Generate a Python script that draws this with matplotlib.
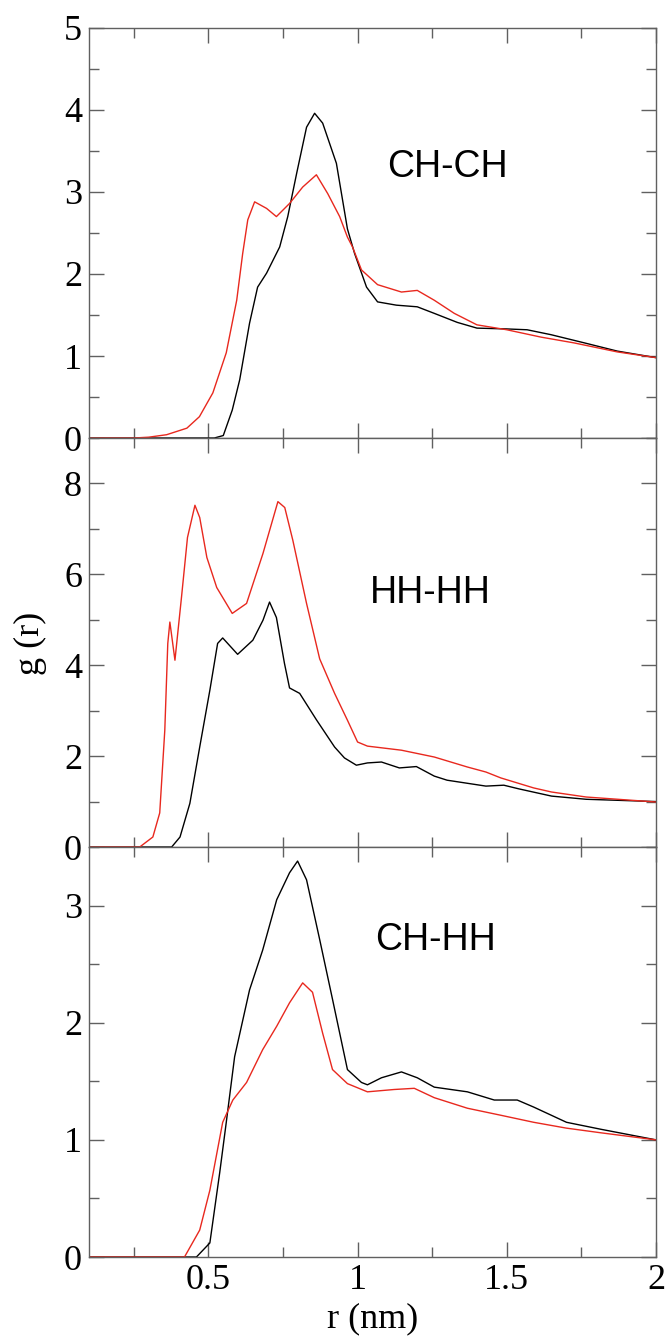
import matplotlib
matplotlib.use("Agg")
import matplotlib.pyplot as plt
from matplotlib.ticker import MultipleLocator, FormatStrFormatter

# ---- data (r in nm, g(r)) ----
# CH-CH
chch_black_r = [0.10, 0.50, 0.52, 0.55, 0.58, 0.605, 0.638, 0.665, 0.695, 0.739, 0.766,
                0.796, 0.829, 0.856, 0.883, 0.929, 0.966, 0.99, 1.03, 1.067, 1.13, 1.20,
                1.257, 1.334, 1.40, 1.50, 1.568, 1.648, 1.76, 1.87, 2.0]
chch_black_g = [0, 0, 0, 0.03, 0.34, 0.71, 1.40, 1.84, 2.01, 2.33, 2.70,
                3.23, 3.79, 3.96, 3.84, 3.35, 2.55, 2.25, 1.84, 1.66, 1.62, 1.60,
                1.52, 1.41, 1.34, 1.33, 1.32, 1.26, 1.16, 1.06, 0.98]
chch_red_r = [0.10, 0.25, 0.30, 0.36, 0.428, 0.47, 0.515, 0.56, 0.595, 0.615, 0.632,
              0.655, 0.695, 0.728, 0.772, 0.816, 0.862, 0.90, 0.94, 0.966, 0.983, 1.013,
              1.067, 1.147, 1.20, 1.257, 1.324, 1.40, 1.50, 1.615, 1.725, 1.87, 2.0]
chch_red_g = [0, 0, 0.01, 0.04, 0.12, 0.26, 0.55, 1.04, 1.68, 2.25, 2.66,
              2.88, 2.80, 2.70, 2.86, 3.06, 3.21, 2.98, 2.70, 2.45, 2.33, 2.05,
              1.87, 1.78, 1.80, 1.68, 1.52, 1.38, 1.32, 1.23, 1.16, 1.05, 0.98]

# HH-HH
hhhh_black_r = [0.10, 0.377, 0.405, 0.438, 0.471, 0.505, 0.531, 0.548, 0.598, 0.649, 0.683,
                0.705, 0.728, 0.755, 0.772, 0.806, 0.862, 0.923, 0.956, 0.996, 1.033, 1.08,
                1.14, 1.197, 1.257, 1.30, 1.43, 1.49, 1.54, 1.65, 1.766, 2.0]
hhhh_black_g = [0, 0, 0.22, 0.96, 2.20, 3.45, 4.48, 4.60, 4.24, 4.55, 4.99,
                5.39, 5.05, 4.04, 3.50, 3.38, 2.80, 2.20, 1.96, 1.80, 1.85, 1.87,
                1.74, 1.77, 1.56, 1.47, 1.34, 1.36, 1.28, 1.12, 1.05, 1.0]
hhhh_red_r = [0.10, 0.27, 0.314, 0.337, 0.354, 0.364, 0.371, 0.388, 0.41, 0.43, 0.455,
              0.471, 0.495, 0.528, 0.58, 0.628, 0.683, 0.733, 0.756, 0.783, 0.829, 0.873,
              0.923, 0.966, 1.0, 1.033, 1.147, 1.257, 1.368, 1.43, 1.48, 1.59, 1.65,
              1.766, 2.0]
hhhh_red_g = [0, 0, 0.22, 0.75, 2.57, 4.48, 4.95, 4.11, 5.50, 6.81, 7.52,
              7.25, 6.37, 5.71, 5.14, 5.36, 6.46, 7.60, 7.47, 6.75, 5.36, 4.14,
              3.38, 2.79, 2.31, 2.22, 2.13, 1.98, 1.76, 1.65, 1.52, 1.30, 1.21,
              1.10, 0.99]

# CH-HH
chhh_black_r = [0.10, 0.46, 0.505, 0.538, 0.56, 0.588, 0.638, 0.682, 0.729, 0.772, 0.799,
                0.829, 0.873, 0.916, 0.966, 1.013, 1.033, 1.08, 1.147, 1.20, 1.257, 1.368,
                1.458, 1.535, 1.59, 1.70, 1.816, 2.0]
chhh_black_g = [0, 0, 0.12, 0.72, 1.15, 1.71, 2.28, 2.62, 3.05, 3.28, 3.38,
                3.22, 2.71, 2.20, 1.60, 1.49, 1.47, 1.53, 1.58, 1.53, 1.45, 1.41,
                1.34, 1.34, 1.28, 1.15, 1.09, 1.0]
chhh_red_r = [0.10, 0.42, 0.471, 0.505, 0.548, 0.582, 0.628, 0.682, 0.729, 0.772, 0.816,
              0.849, 0.883, 0.916, 0.966, 1.033, 1.123, 1.19, 1.257, 1.368, 1.48, 1.59,
              1.70, 1.816, 2.0]
chhh_red_g = [0, 0, 0.23, 0.57, 1.15, 1.34, 1.49, 1.77, 1.97, 2.17, 2.34,
              2.26, 1.91, 1.60, 1.48, 1.41, 1.43, 1.44, 1.36, 1.27, 1.21, 1.15,
              1.10, 1.06, 1.0]

panels = [
    # name, black, red, ylim top, major step, label pos
    ("CH-CH", (chch_black_r, chch_black_g), (chch_red_r, chch_red_g), 5.0, 1, (1.10, 3.3)),
    ("HH-HH", (hhhh_black_r, hhhh_black_g), (hhhh_red_r, hhhh_red_g), 9.0, 2, (1.04, 5.6)),
    ("CH-HH", (chhh_black_r, chhh_black_g), (chhh_red_r, chhh_red_g), 3.5, 1, (1.06, 2.71)),
]

SERIF = ["Liberation Serif", "DejaVu Serif"]
SANS = ["Liberation Sans", "DejaVu Sans"]
SPINE = "#606060"

fig = plt.figure(figsize=(6.7, 13.42), dpi=100)
W, H = 670.0, 1342.0
left, right = 89 / W, 656 / W
edges = [28, 438, 847, 1257]

axes = []
for i, (name, blk, red, ytop, major, lpos) in enumerate(panels):
    y0 = 1 - edges[i + 1] / H
    h = (edges[i + 1] - edges[i]) / H
    ax = fig.add_axes([left, y0, right - left, h])
    ax.plot(blk[0], blk[1], color="black", lw=1.0)
    ax.plot(red[0], red[1], color="#e8281e", lw=1.0)
    ax.set_xlim(0.1, 2.0)
    ax.set_ylim(0, ytop)
    ax.xaxis.set_major_locator(MultipleLocator(0.5))
    ax.xaxis.set_minor_locator(MultipleLocator(0.25))
    ax.yaxis.set_major_locator(MultipleLocator(major))
    ax.yaxis.set_minor_locator(MultipleLocator(major / 2))
    ax.xaxis.set_major_formatter(FormatStrFormatter("%g"))
    ax.yaxis.set_major_formatter(FormatStrFormatter("%g"))
    ax.tick_params(which="both", direction="in", top=True, right=True,
                   color=SPINE, width=1.0)
    ax.tick_params(which="major", length=11, labelsize=26, pad=5)
    ax.tick_params(which="minor", length=7)
    for lab in ax.get_xticklabels() + ax.get_yticklabels():
        lab.set_family(SERIF)
    for sp in ax.spines.values():
        sp.set_color(SPINE)
        sp.set_linewidth(1.0)
    if i < 2:
        ax.tick_params(labelbottom=False)
    ax.text(lpos[0], lpos[1], name, family=SANS, fontsize=27,
            ha="left", va="center")
    axes.append(ax)

axes[2].set_xlabel("r (nm)", family=SERIF, fontsize=26, labelpad=4)
fig.text(30 / W, 1 - 643 / H, "g (r)", family=SERIF, fontsize=26,
         rotation=90, ha="center", va="center")

fig.savefig("out.png", dpi=100)
